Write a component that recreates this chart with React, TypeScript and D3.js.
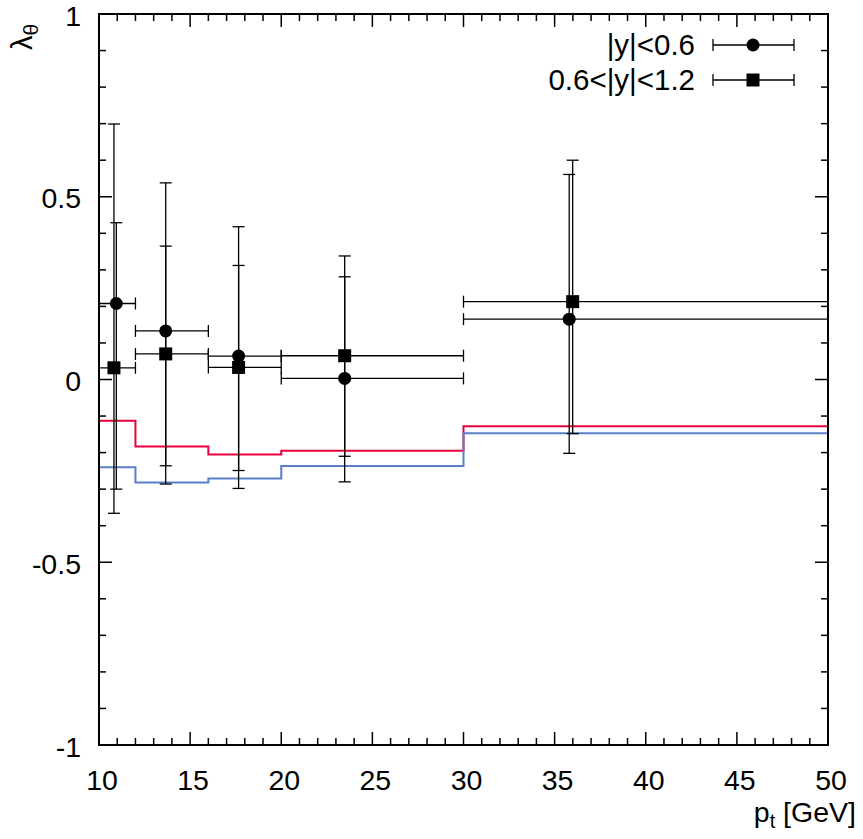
import { useEffect } from "react";
import * as d3 from "d3";

// pt bins
const binLo = [10, 12, 16, 20, 30];
const binHi = [12, 16, 20, 30, 50];

// |y|<0.6 (circles)
const circleX = [10.95, 13.66, 17.66, 23.48, 35.8];
const circleY = [0.208, 0.133, 0.064, 0.003, 0.165];
const circleHi = [0.429, 0.365, 0.312, 0.281, 0.561];
const circleLo = [-0.3, -0.236, -0.249, -0.21, -0.202];

// 0.6<|y|<1.2 (squares)
const squareX = [10.82, 13.66, 17.66, 23.48, 35.99];
const squareY = [0.032, 0.07, 0.033, 0.065, 0.213];
const squareHi = [0.699, 0.538, 0.418, 0.338, 0.6];
const squareLo = [-0.366, -0.286, -0.298, -0.28, -0.148];

// model curves (step histograms)
const stepEdges = [10, 12, 16, 20, 30, 50];
const redStep = [-0.113, -0.183, -0.205, -0.195, -0.128];
const blueStep = [-0.24, -0.282, -0.271, -0.237, -0.147];

const xTicks = [10, 15, 20, 25, 30, 35, 40, 45, 50];
const yTicks = [-1, -0.5, 0, 0.5, 1];
const yTickLabels = ["-1", "-0.5", "0", "0.5", "1"];

const W = 863;
const H = 839;
const FONT = "'Liberation Sans', Arial, sans-serif";

export default function App() {
  useEffect(() => {
    document.body.style.margin = "0";
  }, []);

  const x = d3.scaleLinear().domain([10, 50]).range([99, 828]);
  const y = d3.scaleLinear().domain([-1, 1]).range([745, 14]);
  const [x0, x1] = x.range();
  const [y0, y1] = y.range();

  const minorX = d3.range(10, 51, 1).filter((v) => v % 5 !== 0);
  const minorY = d3.range(-10, 11, 1).map((v) => v / 10).filter((v) => Math.abs((v * 10) % 5) > 1e-6);

  const stepLine = d3
    .line<number>()
    .x((_, i) => x(stepEdges[i]))
    .y((d) => y(d))
    .curve(d3.curveStepAfter);

  const cap = 6;
  const major = 13;
  const minor = 7;

  const errorBars = (
    xs: number[],
    ys: number[],
    hi: number[],
    lo: number[],
    key: string
  ) =>
    xs.map((xv, i) => {
      const cx = x(xv);
      const cy = y(ys[i]);
      const lx = x(binLo[i]);
      const rx = x(binHi[i]);
      return (
        <g key={key + i} stroke="#000" strokeWidth={1.3} fill="none">
          <line x1={cx} x2={cx} y1={y(hi[i])} y2={y(lo[i])} />
          <line x1={cx - cap} x2={cx + cap} y1={y(hi[i])} y2={y(hi[i])} />
          <line x1={cx - cap} x2={cx + cap} y1={y(lo[i])} y2={y(lo[i])} />
          <line x1={lx} x2={rx} y1={cy} y2={cy} />
          {binLo[i] > 10 && <line x1={lx} x2={lx} y1={cy - cap} y2={cy + cap} />}
          {binHi[i] < 50 && <line x1={rx} x2={rx} y1={cy - cap} y2={cy + cap} />}
        </g>
      );
    });

  return (
    <svg width={W} height={H} style={{ display: "block" }} fontFamily={FONT}>
      <rect width={W} height={H} fill="#fff" />

      {/* ticks on all four sides */}
      <g stroke="#000" strokeWidth={1.5}>
        {xTicks.map((t) => (
          <g key={"xt" + t}>
            <line x1={x(t)} x2={x(t)} y1={y0} y2={y0 - major} />
            <line x1={x(t)} x2={x(t)} y1={y1} y2={y1 + major} />
          </g>
        ))}
        {minorX.map((t) => (
          <g key={"xm" + t}>
            <line x1={x(t)} x2={x(t)} y1={y0} y2={y0 - minor} />
            <line x1={x(t)} x2={x(t)} y1={y1} y2={y1 + minor} />
          </g>
        ))}
        {yTicks.map((t) => (
          <g key={"yt" + t}>
            <line x1={x0} x2={x0 + major} y1={y(t)} y2={y(t)} />
            <line x1={x1} x2={x1 - major} y1={y(t)} y2={y(t)} />
          </g>
        ))}
        {minorY.map((t) => (
          <g key={"ym" + t}>
            <line x1={x0} x2={x0 + minor} y1={y(t)} y2={y(t)} />
            <line x1={x1} x2={x1 - minor} y1={y(t)} y2={y(t)} />
          </g>
        ))}
      </g>

      {/* model steps */}
      <path d={stepLine([...redStep, redStep[redStep.length - 1]]) ?? ""} fill="none" stroke="#e8003a" strokeWidth={2} />
      <path d={stepLine([...blueStep, blueStep[blueStep.length - 1]]) ?? ""} fill="none" stroke="#5a7fc8" strokeWidth={2} />

      {/* data */}
      {errorBars(circleX, circleY, circleHi, circleLo, "c")}
      {errorBars(squareX, squareY, squareHi, squareLo, "s")}
      {circleX.map((xv, i) => (
        <circle key={"cp" + i} cx={x(xv)} cy={y(circleY[i])} r={6.5} fill="#000" />
      ))}
      {squareX.map((xv, i) => (
        <rect key={"sp" + i} x={x(xv) - 6.5} y={y(squareY[i]) - 6.5} width={13} height={13} fill="#000" />
      ))}

      {/* frame */}
      <rect x={x0} y={y1} width={x1 - x0} height={y0 - y1} fill="none" stroke="#000" strokeWidth={2} />

      {/* tick labels */}
      <g fontSize={28.5} fill="#000">
        {xTicks.map((t) => (
          <text key={"xl" + t} x={x(t) + 3} y={790} textAnchor="middle">
            {t}
          </text>
        ))}
        {yTicks.map((t, i) => (
          <text key={"yl" + t} x={81} y={y(t) + 11.5} textAnchor="end">
            {yTickLabels[i]}
          </text>
        ))}
      </g>

      {/* axis titles */}
      <text x={856} y={822} fontSize={28.5} textAnchor="end">
        p<tspan fontSize={20} dy={6}>t</tspan>
        <tspan dy={-6}> [GeV]</tspan>
      </text>
      <text transform="translate(32,50) rotate(-90)" fontSize={29}>
        λ<tspan fontSize={21} dy={6}>θ</tspan>
      </text>

      {/* legend */}
      <g fontSize={29.5}>
        <text x={695} y={55} textAnchor="end">|y|&lt;0.6</text>
        <text x={695} y={90} textAnchor="end">0.6&lt;|y|&lt;1.2</text>
        <g stroke="#000" strokeWidth={1.3}>
          <line x1={713} x2={794} y1={45} y2={45} />
          <line x1={713} x2={713} y1={39} y2={51} />
          <line x1={794} x2={794} y1={39} y2={51} />
          <line x1={713} x2={794} y1={80} y2={80} />
          <line x1={713} x2={713} y1={74} y2={86} />
          <line x1={794} x2={794} y1={74} y2={86} />
        </g>
        <circle cx={753} cy={45} r={6.5} fill="#000" />
        <rect x={746.5} y={73.5} width={13} height={13} fill="#000" />
      </g>
    </svg>
  );
}
